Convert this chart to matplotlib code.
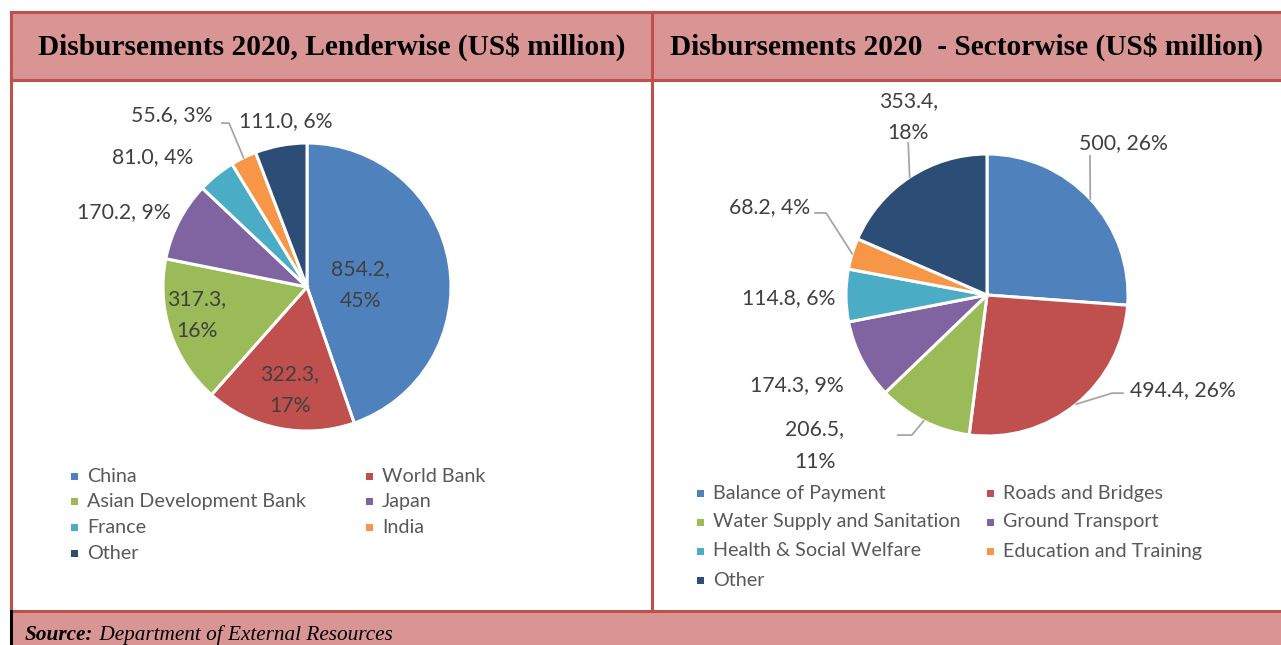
import matplotlib
matplotlib.use("Agg")
import matplotlib.pyplot as plt
from matplotlib.patches import Rectangle
import numpy as np

# ---------------- data ----------------
lender_names = ["China", "World Bank", "Asian Development Bank", "Japan",
                "France", "India", "Other"]
lender_values = [854.2, 322.3, 317.3, 170.2, 81.0, 55.6, 111.0]
lender_pct = ["45%", "17%", "16%", "9%", "4%", "3%", "6%"]

sector_names = ["Balance of Payment", "Roads and Bridges",
                "Water Supply and Sanitation", "Ground Transport",
                "Health & Social Welfare", "Education and Training", "Other"]
sector_values = [500, 494.4, 206.5, 174.3, 114.8, 68.2, 353.4]
sector_val_text = ["500", "494.4", "206.5", "174.3", "114.8", "68.2", "353.4"]
sector_pct = ["26%", "26%", "11%", "9%", "6%", "4%", "18%"]

title_left = "Disbursements 2020, Lenderwise (US$ million)"
title_right = "Disbursements 2020  - Sectorwise (US$ million)"
source_bold = "Source:"
source_text = " Department of External Resources"

colors = ["#4F81BD", "#C0504D", "#9BBB59", "#8064A2", "#4BACC6", "#F79646", "#2C4D75"]

# ---------------- layout ----------------
W, H = 1281, 645
fig = plt.figure(figsize=(W / 100, H / 100), dpi=100)
bg = fig.add_axes([0, 0, 1, 1])
bg.set_xlim(0, W)
bg.set_ylim(H, 0)
bg.axis("off")

head_fill = "#D99594"
line_c = "#C0504D"
# header band
bg.add_patch(Rectangle((11, 12), W, 68, facecolor=head_fill, edgecolor="none", zorder=1))
# source band
bg.add_patch(Rectangle((11, 611), W, 40, facecolor=head_fill, edgecolor="none", zorder=1))
# frame lines
lw = 2.2
bg.plot([11, W + 5], [12, 12], color=line_c, lw=lw, zorder=3)
bg.plot([11, W + 5], [80, 80], color=line_c, lw=lw, zorder=3)
bg.plot([11, W + 5], [611, 611], color=line_c, lw=lw, zorder=3)
bg.plot([11, 11], [12, 611], color=line_c, lw=lw, zorder=3)
bg.plot([11, 11], [611, H + 5], color="black", lw=lw, zorder=3)
bg.plot([652, 652], [12, 611], color=line_c, lw=lw, zorder=3)

tfont = dict(family="Liberation Serif", weight="bold", fontsize=21.2, color="black")
bg.text(332, 47, title_left, ha="center", va="center", **tfont)
bg.text(966, 47, title_right, ha="center", va="center", **tfont)

s1 = bg.text(25, 635, source_bold, ha="left", va="center", family="Liberation Serif",
             weight="bold", style="italic", fontsize=15.3)
fig.canvas.draw()
bb = s1.get_window_extent()
x_end = bb.x1
bg.annotate(source_text, xy=(x_end, H - 635), xycoords="figure pixels",
            ha="left", va="center", family="Liberation Serif", style="italic", fontsize=15.3)

label_font = dict(family="Lato", fontsize=15.3, color="#404040")
leg_font = dict(family="Lato", fontsize=14.2, color="#595959")


def make_pie(cx, cy, r, values, labels, layout):
    ax = fig.add_axes([(cx - r) / W, (H - cy - r) / H, 2 * r / W, 2 * r / H])
    wedges, _ = ax.pie(values, colors=colors, startangle=90, counterclock=False,
                       radius=1, wedgeprops=dict(edgecolor="white", linewidth=2.2))
    ax.set_xlim(-1, 1)
    ax.set_ylim(-1, 1)
    ax.axis("off")
    for w, lab, (dist, tweak, leader) in zip(wedges, labels, layout):
        mid = np.deg2rad((w.theta1 + w.theta2) / 2)
        ang = mid + np.deg2rad(tweak)
        lx, ly = dist * np.cos(ang), dist * np.sin(ang)
        t = ax.text(lx, ly, lab, ha="center", va="center", multialignment="center",
                    linespacing=1.8, **label_font)
        t.set_clip_on(False)
        if leader:
            pts = [(lx + ox, ly + oy) for ox, oy in leader]
            pts.append((np.cos(mid), np.sin(mid)))
            xs, ys = zip(*pts)
            ax.plot(xs, ys, color="#A6A6A6", lw=1.3, clip_on=False, zorder=5)
    return ax


# left pie
left_labels = [f"{v:.1f},\n{p}" if i < 3 else f"{v:.1f}, {p}"
               for i, (v, p) in enumerate(zip(lender_values, lender_pct))]
left_layout = [
    (0.37, -7.5, None),
    (0.725, 1.8, None),
    (0.79, -4.3, None),
    (1.373, 5.1, None),
    (1.40, 10.8, None),
    (1.518, 12.0, [(0.347, -0.056), (0.396, -0.056)]),
    (1.163, -3.0, None),
]
make_pie(307, 287, 144, lender_values, left_labels, left_layout)

# right pie
right_labels = []
for i, (v, p) in enumerate(zip(sector_val_text, sector_pct)):
    if i in (2, 6):
        right_labels.append(f"{v},\n{p}")
    else:
        right_labels.append(f"{v}, {p}")
right_layout = [
    (1.447, 5.3, [(-0.234, -0.092)]),
    (1.545, 24.8, [(-0.426, -0.021), (-0.504, -0.021)]),
    (1.62, -22.2, [(0.589, 0.071), (0.688, 0.071)]),
    (1.49, -2.0, None),
    (1.404, 0.7, None),
    (1.667, -5.0, [(0.326, -0.043), (0.404, -0.043)]),
    (1.38, -9.4, [(0.0, -0.184)]),
]
make_pie(987, 295, 141, sector_values, right_labels, right_layout)


# legends (drawn in pixel coordinates of the background axes)
def legend(names, x_cols, y0, dy):
    for i, name in enumerate(names):
        row, col = divmod(i, 2)
        x = x_cols[col]
        y = y0 + row * dy
        bg.add_patch(Rectangle((x - 3.5, y - 3.5), 7, 7, facecolor=colors[i],
                               edgecolor="none", zorder=4))
        bg.text(x + 13, y, name, ha="left", va="center", **leg_font)


legend(lender_names, [74, 369], 476, 25.7)
legend(sector_names, [700, 990], 493, 29)

fig.savefig("out.png", dpi=100)
